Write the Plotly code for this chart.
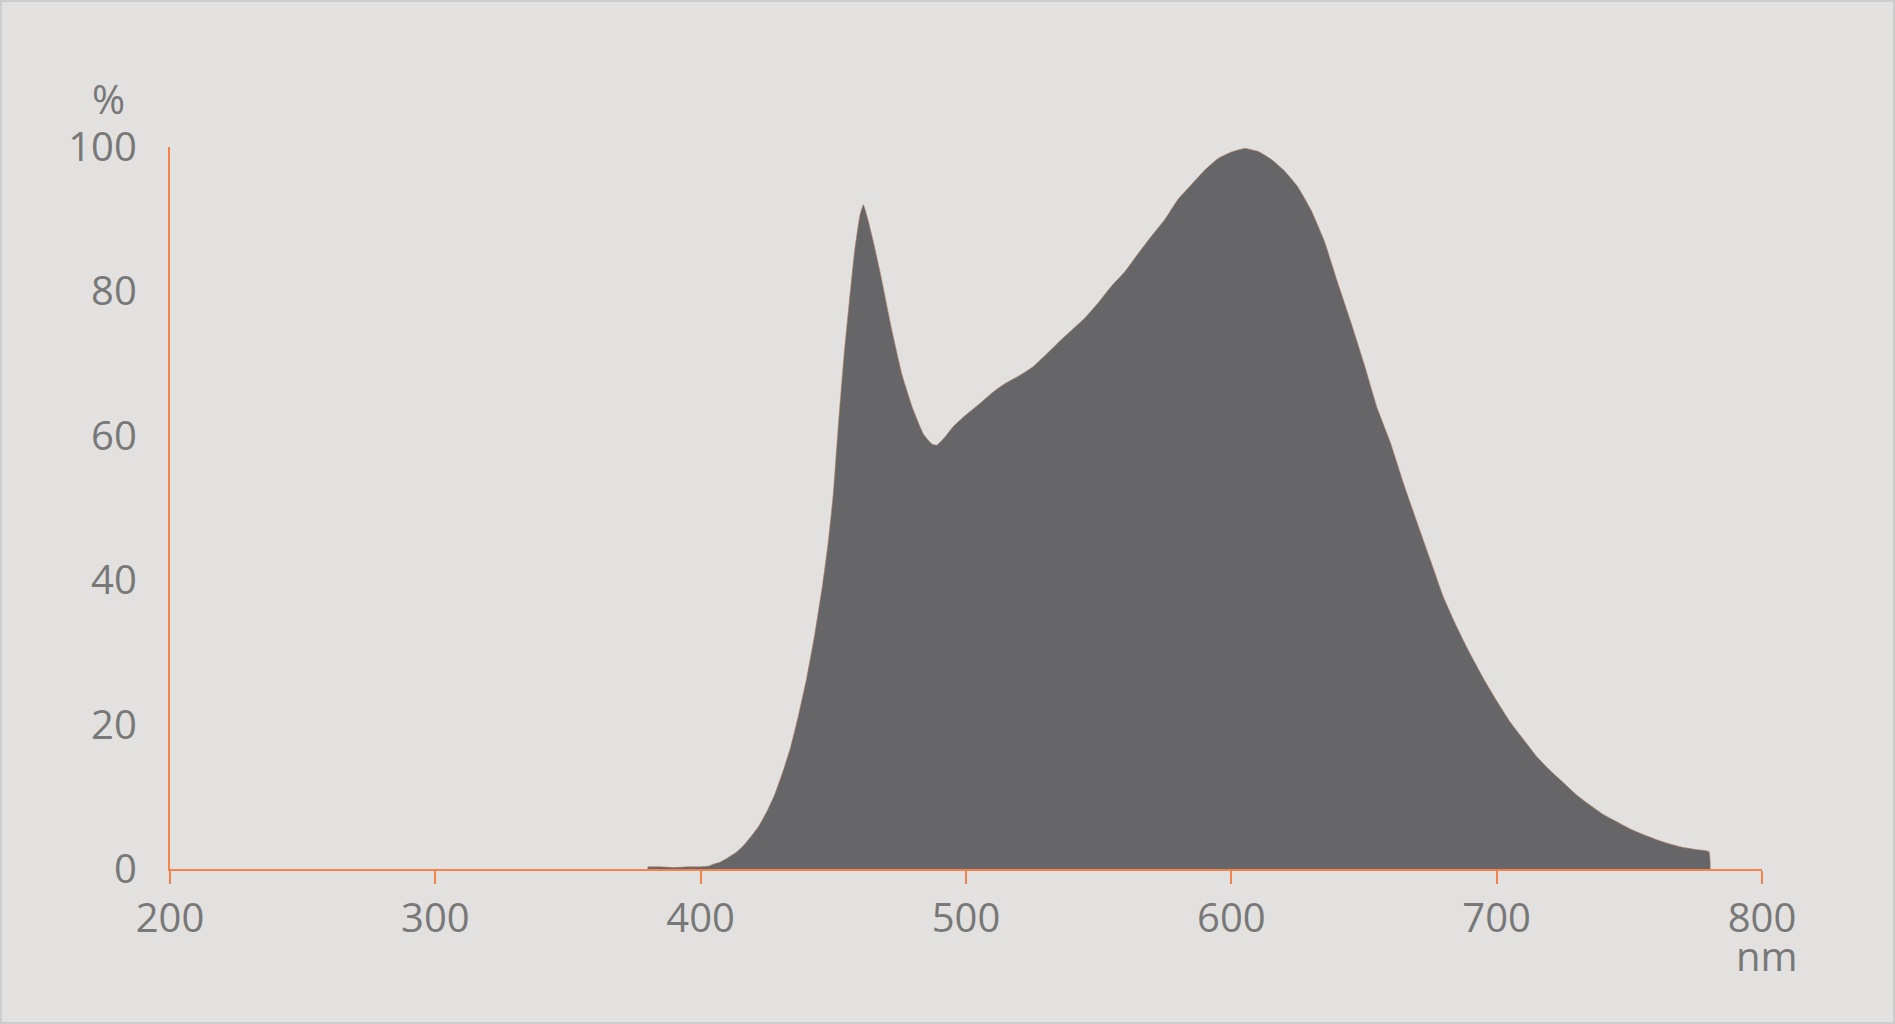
import plotly.graph_objects as go

# Relative spectral power distribution
wavelength_nm = [380, 385, 390, 395, 400, 403, 405, 407, 410, 413, 416, 419, 422, 425, 428,
                 431, 434, 437, 440, 443, 446, 448, 450, 452, 454, 456, 458, 460, 461.3,
                 463, 465, 468, 472, 476, 480, 484, 487, 489, 492, 495, 500, 505, 510, 515,
                 520, 525, 530, 535, 540, 545, 550, 555, 560, 565, 570, 575, 580, 585, 590,
                 595, 600, 605, 610, 615, 620, 625, 630, 635, 640, 645, 650, 655, 660, 665,
                 670, 675, 680, 685, 690, 695, 700, 705, 710, 715, 720, 725, 730, 735, 740,
                 745, 750, 755, 760, 765, 770, 775, 780, 780.5]
intensity_pct = [0.3, 0.3, 0.2, 0.3, 0.3, 0.4, 0.7, 0.9, 1.5, 2.2, 3.2, 4.5, 6.0, 8.0, 10.4,
                 13.5, 17.0, 21.5, 26.5, 32.5, 39.5, 45.0, 52.0, 62.0, 71.0, 78.5, 85.5, 90.5, 92.0,
                 90.0, 87.0, 82.0, 74.7, 68.3, 63.7, 60.2, 58.9, 58.7, 59.8, 61.2, 62.9, 64.4, 66.0, 67.3,
                 68.3, 69.5, 71.2, 73.0, 74.7, 76.4, 78.5, 80.8, 82.8, 85.3, 87.7, 90.0, 92.8, 94.8, 96.8,
                 98.4, 99.3, 99.8, 99.4, 98.3, 96.7, 94.5, 91.3, 87.0, 81.3, 75.8, 70.0, 63.8, 59.0, 53.3,
                 48.0, 42.8, 37.6, 33.5, 29.8, 26.4, 23.3, 20.4, 18.0, 15.6, 13.7, 12.0, 10.3, 8.9, 7.6,
                 6.6, 5.6, 4.8, 4.1, 3.5, 3.0, 2.7, 2.4, 0.0]

x_ticks = [200, 300, 400, 500, 600, 700, 800]
y_ticks = [0, 20, 40, 60, 80, 100]

BG = "#e2e1df"
ORANGE = "#f0844a"
FILL = "#666668"
TEXT = "#787878"
FONT = "Open Sans"
FS = 40

W, H = 1895, 1024
L, R, T, B = 170, 133, 147, 155
pw, ph = W - L - R, H - T - B

fig = go.Figure()
fig.add_trace(go.Scatter(
    x=wavelength_nm, y=intensity_pct, mode="lines", fill="tozeroy",
    fillcolor=FILL, line=dict(color="#b07a60", width=0.6, shape="spline", smoothing=0.4),
    hoverinfo="skip", showlegend=False))

fig.update_layout(
    width=W, height=H,
    margin=dict(l=L, r=R, t=T, b=B, pad=0),
    paper_bgcolor=BG, plot_bgcolor=BG,
    font=dict(family=FONT, size=FS, color=TEXT),
    xaxis=dict(range=[200, 800], tickvals=x_ticks, ticktext=[str(v) for v in x_ticks],
               showgrid=False, zeroline=False, showline=True, linecolor=ORANGE, linewidth=2.4,
               ticks="outside", ticklen=13, tickwidth=2.2, tickcolor=ORANGE,
               ticklabelstandoff=0, fixedrange=True),
    yaxis=dict(range=[0, 100], tickvals=y_ticks, ticktext=[str(v) for v in y_ticks],
               showgrid=False, zeroline=False, showline=True, linecolor=ORANGE, linewidth=2.4,
               ticks="", ticklabelstandoff=23, fixedrange=True),
    annotations=[
        dict(text="%", xref="paper", yref="paper", x=(108 - L) / pw, y=(H - B - 98) / ph,
             xanchor="center", yanchor="middle", showarrow=False,
             font=dict(family=FONT, size=FS, color=TEXT)),
        dict(text="nm", xref="paper", yref="paper", x=(1767 - L) / pw, y=(H - B - 955) / ph,
             xanchor="center", yanchor="middle", showarrow=False,
             font=dict(family=FONT, size=FS, color=TEXT)),
    ],
    shapes=[dict(type="rect", xref="paper", yref="paper",
                 x0=(1 - L) / pw, x1=(W - 1 - L) / pw,
                 y0=(H - B - (H - 1)) / ph, y1=(H - B - 1) / ph,
                 line=dict(color="#cdcdcd", width=2), fillcolor="rgba(0,0,0,0)", layer="below")],
)

fig.write_html("out.html", config={"displayModeBar": False},
               post_script="document.body.style.margin='0';document.body.style.overflow='hidden';")
